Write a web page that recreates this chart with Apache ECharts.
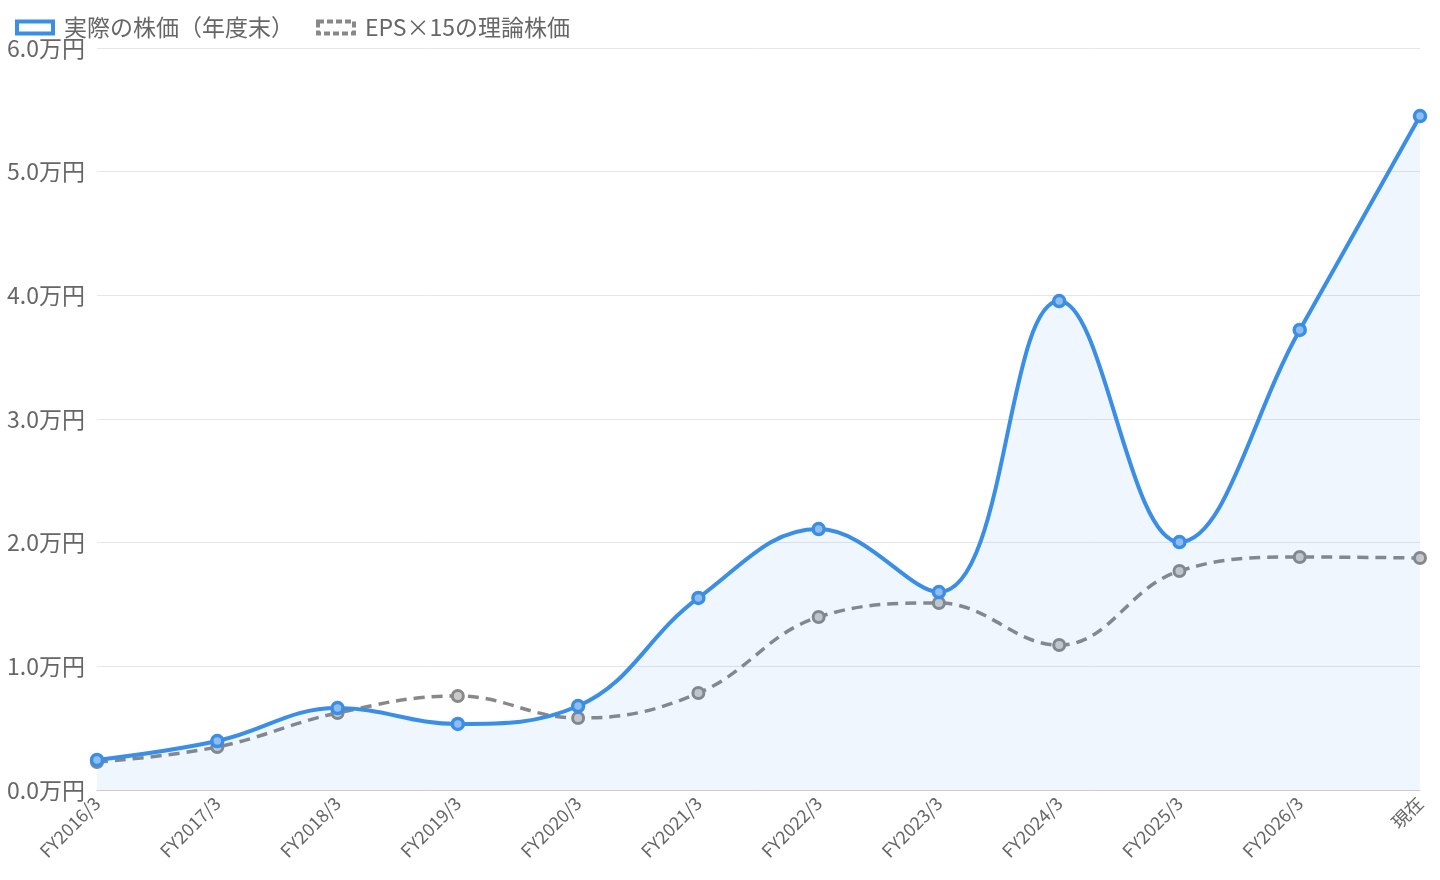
<!DOCTYPE html>
<html>
<head>
<meta charset="utf-8">
<script src="https://cdn.jsdelivr.net/npm/echarts@6/dist/echarts.min.js"></script>
<style>
  html, body { margin: 0; padding: 0; background: #fff; }
  #chart { width: 1440px; height: 880px; }
</style>
</head>
<body>
<div id="chart"></div>
<script>
// 年度ラベル
var categories = ['FY2016/3', 'FY2017/3', 'FY2018/3', 'FY2019/3', 'FY2020/3', 'FY2021/3',
    'FY2022/3', 'FY2023/3', 'FY2024/3', 'FY2025/3', 'FY2026/3', '現在'];
// 実際の株価（年度末）円
var actualPrice = [2430, 3960, 6630, 5340, 6790, 15530, 21100, 16010, 39540, 20050, 37200, 54500];
// EPS×15の理論株価 円
var theoryPrice = [2260, 3480, 6230, 7600, 5820, 7840, 13990, 15120, 11720, 17710, 18840, 18760];

var nameActual = '実際の株価（年度末）';
var nameTheory = 'EPS×15の理論株価';

var chart = echarts.init(document.getElementById('chart'));

var option = {
    animation: false,
    textStyle: {
        fontFamily: '"Noto Sans CJK JP", "Noto Sans", sans-serif'
    },
    legend: {
        left: 10,
        top: 11,
        itemWidth: 36,
        itemHeight: 12,
        itemGap: 22,
        textStyle: {
            color: '#666',
            fontSize: 23,
            padding: [0, 0, 0, 6]
        },
        data: [{
            name: nameActual,
            icon: 'rect',
            itemStyle: { color: '#ffffff', borderColor: '#3a8ee6', borderWidth: 4 }
        }, {
            name: nameTheory,
            icon: 'rect',
            itemStyle: { color: '#ffffff', borderColor: '#888', borderWidth: 4, borderType: [6, 3] }
        }]
    },
    grid: {
        left: 97,
        right: 20,
        top: 48,
        bottom: 90,
        containLabel: false
    },
    xAxis: {
        type: 'category',
        boundaryGap: false,
        data: categories,
        axisLine: { lineStyle: { color: '#ccc', width: 1 } },
        axisTick: { show: false },
        axisLabel: {
            rotate: 45,
            color: '#666',
            fontSize: 18,
            margin: 10
        }
    },
    yAxis: {
        type: 'value',
        min: 0,
        max: 60000,
        interval: 10000,
        axisLine: { show: false },
        axisTick: { show: false },
        splitLine: { lineStyle: { color: '#e6e6e6', width: 1 } },
        axisLabel: {
            color: '#666',
            fontSize: 23,
            margin: 12,
            formatter: function(v) {
                return (v / 10000).toFixed(1) + '万円';
            }
        }
    },
    series: [{
        name: nameActual,
        type: 'line',
        data: actualPrice,
        smooth: 0.4,
        symbol: 'circle',
        symbolSize: 11,
        z: 3,
        lineStyle: { color: '#3a8ee6', width: 4 },
        itemStyle: { color: '#8fbdee', borderColor: '#3a8ee6', borderWidth: 3.5 },
        areaStyle: { color: 'rgba(58,142,230,0.11)' }
    }, {
        name: nameTheory,
        type: 'line',
        data: theoryPrice,
        smooth: 0.4,
        symbol: 'circle',
        symbolSize: 11,
        z: 2,
        lineStyle: { color: '#888', width: 3.5, type: [11, 7] },
        itemStyle: { color: '#c8cacc', borderColor: '#888', borderWidth: 3 }
    }]
};

chart.setOption(option);
</script>
</body>
</html>
